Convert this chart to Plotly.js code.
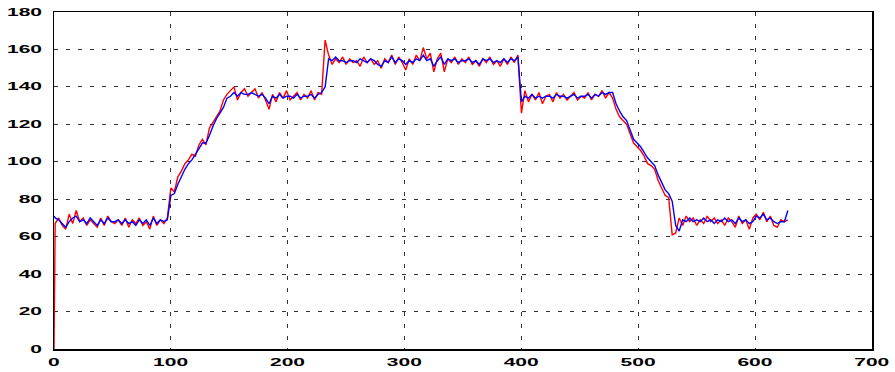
<!DOCTYPE html>
<html>
<head>
<meta charset="utf-8">
<script src="https://cdn.plot.ly/plotly-3.0.1.min.js"></script>
<style>
  html, body { margin: 0; padding: 0; background: #fff; }
  #chart { width: 895px; height: 372px; }
</style>
</head>
<body>
<div id="chart"></div>
<script>
// Sample clock: first sample at 0, then every 3 steps from 1 to 628
const t = [0];
for (let k = 1; k <= 628; k += 3) t.push(k);

// Measured speed (red) and filtered estimate (blue), one value per sample
const redSeries = [
  // 0 .. 97
  0, 67, 70, 66, 64, 72, 67, 74, 68, 70, 66, 69, 67, 65, 70, 66, 71, 68, 67, 69,
  66, 70, 65, 69, 67, 70, 66, 68, 64, 71, 66, 69, 67, 70,
  // 100 .. 148
  86, 84, 92, 95, 99, 101, 104, 103, 109, 112, 109, 118, 121, 124, 127, 133, 136,
  // 151 .. 229
  138, 140, 133, 137, 139, 135, 137, 139, 134, 137, 133, 128, 136, 132, 137, 134,
  138, 133, 135, 137, 133, 136, 134, 138, 133, 137, 136,
  // 232 .. 397
  165, 157, 152, 155, 153, 156, 152, 155, 153, 154, 151, 156, 153, 155, 152, 154,
  150, 155, 153, 157, 152, 156, 153, 149, 155, 152, 157, 154, 161, 155, 158, 148,
  155, 158, 148, 155, 153, 156, 152, 155, 153, 156, 152, 154, 151, 155, 153, 156,
  152, 154, 151, 155, 152, 156, 153, 157,
  // 400 .. 475
  126, 138, 132, 136, 133, 137, 131, 135, 136, 132, 137, 134, 136, 133, 135, 137,
  133, 135, 134, 137, 133, 136, 135, 138, 134, 137,
  // 478 .. 526
  134, 128, 124, 122, 120, 115, 110, 108, 106, 103, 99, 98, 96, 90, 86, 82, 81,
  // 529 .. 628
  61, 62, 70, 66, 71, 68, 70, 66, 69, 67, 71, 68, 70, 67, 69, 66, 70, 68, 65, 71,
  67, 69, 64, 70, 72, 69, 73, 68, 71, 66, 65, 69, 68, 69
];

const blueSeries = [
  // 0 .. 97
  71, 70, 69, 67, 65, 68, 70, 71, 68, 69, 67, 70, 68, 66, 69, 67, 70, 68, 68, 69,
  67, 69, 67, 68, 66, 69, 67, 69, 66, 70, 67, 69, 68, 69,
  // 100 .. 148
  82, 83, 88, 92, 96, 99, 101, 104, 107, 110, 110, 114, 119, 123, 126, 129, 134,
  // 151 .. 229
  135, 137, 135, 137, 136, 136, 137, 136, 135, 136, 134, 131, 135, 134, 136, 134,
  135, 135, 134, 136, 134, 135, 135, 136, 134, 136, 137,
  // 232 .. 397
  140, 155, 154, 156, 154, 154, 153, 154, 154, 153, 155, 154, 153, 155, 154, 152,
  151, 154, 153, 156, 153, 155, 154, 152, 154, 153, 155, 154, 157, 154, 155, 151,
  154, 156, 152, 155, 154, 155, 153, 154, 154, 155, 153, 154, 152, 155, 154, 155,
  153, 154, 153, 155, 153, 155, 154, 156,
  // 400 .. 475
  132, 135, 134, 136, 134, 135, 134, 135, 135, 134, 136, 135, 135, 134, 135, 136,
  134, 135, 135, 136, 134, 136, 135, 137, 136, 137,
  // 478 .. 526
  137, 131, 127, 124, 122, 117, 112, 110, 108, 105, 102, 100, 98, 93, 89, 85, 83,
  // 529 .. 628
  79, 66, 63, 69, 68, 70, 68, 69, 68, 70, 68, 69, 67, 69, 68, 70, 68, 69, 67, 70,
  68, 69, 67, 68, 71, 70, 72, 69, 70, 68, 67, 68, 68, 74
];

const xTicks = [0, 100, 200, 300, 400, 500, 600, 700];
const yTicks = [0, 20, 40, 60, 80, 100, 120, 140, 160, 180];

const tickFont = { family: 'Liberation Sans, Arial, sans-serif', size: 10, color: '#000', weight: 'bold' };

const axisCommon = {
  showline: true,
  mirror: true,
  linecolor: '#000',
  linewidth: 1.5,
  showgrid: true,
  gridcolor: '#333',
  gridwidth: 1,
  griddash: '4px,8px',
  zeroline: false,
  ticks: '',
  tickfont: tickFont,
  tickmode: 'array'
};

const data = [
  { x: t, y: redSeries, type: 'scatter', mode: 'lines', line: { color: '#ff0000', width: 1.4 }, hoverinfo: 'skip' },
  { x: t, y: blueSeries, type: 'scatter', mode: 'lines', line: { color: '#0000ff', width: 1.4 }, hoverinfo: 'skip' }
];

const layout = {
  width: 895,
  height: 372,
  margin: { l: 54, r: 23, t: 12, b: 23 },
  paper_bgcolor: '#fff',
  plot_bgcolor: '#fff',
  showlegend: false,
  xaxis: Object.assign({}, axisCommon, {
    range: [0, 700], tickvals: xTicks, ticktext: xTicks.map(String), ticklabelstandoff: 4
  }),
  yaxis: Object.assign({}, axisCommon, {
    range: [0, 180], tickvals: yTicks, ticktext: yTicks.map(String), ticklabelstandoff: 8
  })
};

Plotly.newPlot('chart', data, layout, { staticPlot: true, displayModeBar: false }).then(function (gd) {
  // Widen the tick labels horizontally, keeping each one anchored in place
  const sx = 2.1;
  gd.querySelectorAll('.xtick text, .ytick text').forEach(function (el) {
    const bb = el.getBBox();
    const anchor = el.getAttribute('text-anchor');
    const ax = anchor === 'end' ? bb.x + bb.width : (anchor === 'start' ? bb.x : bb.x + bb.width / 2);
    const ay = bb.y + bb.height / 2;
    const base = el.getAttribute('transform') || '';
    el.setAttribute('transform', base + ' translate(' + ax + ',' + ay + ') scale(' + sx + ',1) translate(' + (-ax) + ',' + (-ay) + ')');
  });
});
</script>
</body>
</html>
